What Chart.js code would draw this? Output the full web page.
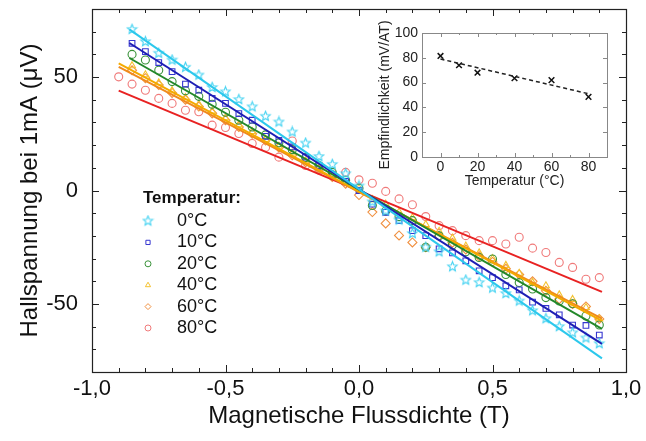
<!DOCTYPE html>
<html>
<head>
<meta charset="utf-8">
<script src="https://cdn.jsdelivr.net/npm/chart.js@4.4.0/dist/chart.umd.min.js"></script>
<style>
  html, body { margin: 0; padding: 0; background: #fff; }
  #wrap { position: relative; width: 646px; height: 441px; }
  #hall { position: absolute; left: 0; top: 0; }
  #inset { position: absolute; left: 370px; top: 20px; }
</style>
</head>
<body>
<div id="wrap">
  <canvas id="hall" width="646" height="441"></canvas>
  <canvas id="inset" width="250" height="175"></canvas>
</div>
<script>
// magnetic flux density (T), shared by all temperature series
const fluxDensity = [-0.90, -0.85, -0.80, -0.75, -0.70, -0.65, -0.60, -0.55, -0.50, -0.45, -0.40, -0.35, -0.30,
  -0.25, -0.20, -0.15, -0.10, -0.05, 0.00, 0.05, 0.10, 0.15, 0.20, 0.25, 0.30, 0.35, 0.40, 0.45, 0.50, 0.55,
  0.60, 0.65, 0.70, 0.75, 0.80, 0.85, 0.90];

// hall voltage at 1 mA (µV)
const hall0 = [null, 71, 65.6, 60.5, 57.5, 54.3, 50.9, 45.4, 43.5, 40.1, 36.9, 32.7, 30.2, 25.8, 20.9, 15, 11.5, 7.4,
  2, -5, -9, -13, -19, -25, -27, -33.6, -39.5, -40.6, -43, -45.4, -48.7, -53, -56.5, -60, -62.7, -65, -67.5];
const hall10 = [null, 64.9, 61.2, 56.4, 52.4, 46.9, 44.2, 40.6, 38.4, 33.9, 31, 23.9, 22.1, 19.2, 14.7, 11, 7, 4,
  0, -6, -9.6, -13.3, -17.7, -19.9, -25.7, -27.5, -31, -35.4, -38.4, -42, -43.8, -49.2, -52, -54.8, -59.3, -59.5, -63.7];
const hall20 = [null, 60, 57.5, 53, 48, 44, 41.5, 38, 34.5, 31, 28, 24.5, 21, 18, 14.5, 11, 8, 4.5,
  1, -6.6, -9, -11.5, -13.3, -25, -20, -24, -27, -29.5, -30.2, -37, -40.6, -43.4, -47.2, -48.7, -49.9, -55.3, -59.3];
const hall40 = [null, 55, 51, 47.5, 44, 41, 38, 35, 32, 29, 26, 22.5, 19.5, 16.5, 13, 10, 6.5, 3.5,
  1, -4, -6, -9.5, -12, -15, -18, -21, -24.5, -27.5, -30, -33, -36.5, -40.6, -42, -46, -48, -51.6, -56.6];
const hall60 = [null, 53, 49.5, 46.5, 43, 40, 37, 34, 31, 28, 25, 22, 19, 15.5, 12.5, 9.5, 6, 3,
  -2, -9.5, -14.5, -19.8, -22.9, -25, -20, -23, -26, -29, -31.5, -34.5, -37, -40, -44.2, -47.9, -50, -51.1, -56.6];
const hall80 = [50.1, 46.9, 44.2, 40.6, 38.4, 35.4, 34.7, 28.8, 27.8, 25.1, 20.7, 19, 14.7, 21.8, 11, 9, 7, 8,
  4.7, 3.2, -0.4, -3.7, -6.3, -11.5, -15.5, -17.7, -19.9, -22.1, -22.1, -23.6, -20.6, -25.4, -27.3, -31.7, -33.9, -39.1, -38.4];

// linear fits, read as end points
const fit0 = { x: [-0.86, 0.91], y: [71, -74] };
const fit10 = { x: [-0.86, 0.91], y: [65, -67.6] };
const fit20 = { x: [-0.86, 0.91], y: [58.4, -61] };
const fit40 = { x: [-0.90, 0.91], y: [56, -57.5] };
const fit60 = { x: [-0.90, 0.91], y: [54.5, -56.5] };
const fit80 = { x: [-0.90, 0.91], y: [44, -44.7] };

const tempLabels = ['0°C', '10°C', '20°C', '40°C', '60°C', '80°C'];

const xTicks = [-1, -0.5, 0, 0.5, 1];
const xMinor = [-0.9, -0.8, -0.7, -0.6, -0.4, -0.3, -0.2, -0.1, 0.1, 0.2, 0.3, 0.4, 0.6, 0.7, 0.8, 0.9];
const yTicks = [-50, 0, 50];
const yMinor = [-70, -60, -40, -30, -20, -10, 10, 20, 30, 40, 60, 70];

// inset: sensitivity vs temperature
const temps = [0, 10, 20, 40, 60, 80];
const sensitivity = [81.5, 74, 68, 63.5, 62, 48.5];
const sensFit = { x: [0, 80], y: [79, 51] };
const insetXTicks = [0, 20, 40, 60, 80];
const insetXMinor = [10, 30, 50, 70];
const insetYTicks = [0, 20, 40, 60, 80, 100];

const FONT = '"Liberation Sans", Arial, Helvetica, sans-serif';

function starImage(color, r) {
  const c = document.createElement('canvas');
  const s = Math.ceil(r * 2 + 3);
  c.width = s; c.height = s;
  const g = c.getContext('2d');
  g.strokeStyle = color;
  g.lineWidth = 1.1;
  g.beginPath();
  for (let k = 0; k < 10; k++) {
    const rr = k % 2 ? r * 0.45 : r;
    const a = -Math.PI / 2 + k * Math.PI / 5;
    const px = s / 2 + rr * Math.cos(a), py = s / 2 + rr * Math.sin(a);
    if (k) g.lineTo(px, py); else g.moveTo(px, py);
  }
  g.closePath();
  g.stroke();
  return c;
}

const series = [
  { vals: hall0, fit: fit0, mark: '#45d3f2', line: '#2cc8ec', style: starImage('#45d3f2', 5) },
  { vals: hall10, fit: fit10, mark: '#3535d0', line: '#1e1eb4', style: 'rect' },
  { vals: hall20, fit: fit20, mark: '#3a923a', line: '#23882a', style: 'circle' },
  { vals: hall40, fit: fit40, mark: '#f4c230', line: '#f4aa00', style: 'triangle' },
  { vals: hall60, fit: fit60, mark: '#f09040', line: '#f08a1c', style: 'rectRot' },
  { vals: hall80, fit: fit80, mark: '#f07a7a', line: '#e82222', style: 'circle' }
];

const datasets = [];
series.forEach((s, i) => {
  datasets.push({
    type: 'line',
    data: s.fit.x.map((x, k) => ({ x: x, y: s.fit.y[k] })),
    borderColor: s.line,
    borderWidth: 2,
    pointRadius: 0,
    order: 0
  });
});
series.forEach((s, i) => {
  datasets.push({
    data: fluxDensity.map((x, k) => ({ x: x, y: s.vals[k] })).filter(p => p.y !== null),
    pointStyle: s.style,
    pointRadius: s.style === 'rectRot' ? 4.5 : 4,
    borderColor: s.mark,
    backgroundColor: 'rgba(0,0,0,0)',
    borderWidth: 1.1,
    order: 1
  });
});

const frameTicks = {
  id: 'frameTicks',
  afterDatasetsDraw(chart, args, o) {
    const { ctx, chartArea: a, scales: { x, y } } = chart;
    ctx.save();
    ctx.strokeStyle = o.color;
    ctx.lineWidth = 1;
    ctx.beginPath();
    const xs = o.xMajor.map(v => [v, o.major]).concat(o.xMinor.map(v => [v, o.minor]));
    xs.forEach(([v, len]) => {
      const px = Math.round(x.getPixelForValue(v)) + 0.5;
      ctx.moveTo(px, a.bottom); ctx.lineTo(px, a.bottom - len);
      if (o.mirror) { ctx.moveTo(px, a.top); ctx.lineTo(px, a.top + len); }
    });
    const ys = o.yMajor.map(v => [v, o.major]).concat(o.yMinor.map(v => [v, o.minor]));
    ys.forEach(([v, len]) => {
      const py = Math.round(y.getPixelForValue(v)) + 0.5;
      ctx.moveTo(a.left, py); ctx.lineTo(a.left + len, py);
      if (o.mirror) { ctx.moveTo(a.right, py); ctx.lineTo(a.right - len, py); }
    });
    ctx.stroke();
    ctx.lineWidth = o.width;
    ctx.strokeRect(Math.round(a.left) + 0.5, Math.round(a.top) + 0.5,
      Math.round(a.right - a.left), Math.round(a.bottom - a.top));
    ctx.restore();
  }
};

const tempLegend = {
  id: 'tempLegend',
  afterDraw(chart, args, o) {
    const ctx = chart.ctx;
    ctx.save();
    ctx.textBaseline = 'middle';
    ctx.fillStyle = '#111';
    ctx.font = 'bold 17px ' + FONT;
    ctx.fillText('Temperatur:', o.x, o.y);
    ctx.font = '18px ' + FONT;
    tempLabels.forEach((lab, i) => {
      const yy = o.y + o.first + i * o.step;
      const s = series[i];
      ctx.strokeStyle = s.mark;
      ctx.fillStyle = 'rgba(0,0,0,0)';
      ctx.lineWidth = 1;
      Chart.helpers.drawPoint(ctx, { pointStyle: s.style, radius: 3, borderWidth: 1, rotation: 0 }, o.x + 5, yy);
      ctx.fillStyle = '#111';
      ctx.fillText(lab, o.x + 34, yy);
    });
    ctx.restore();
  }
};

const commaFmt = v => v.toFixed(1).replace('.', ',');

// keep the plot frame where it is: drop the label overflow padding
const noEdgePad = s => { s.paddingTop = 0; s.paddingBottom = 0; s.paddingLeft = 0; s.paddingRight = 0; };

new Chart(document.getElementById('hall'), {
  type: 'scatter',
  data: { datasets: datasets },
  options: {
    responsive: false,
    animation: false,
    layout: { padding: { top: 9, right: 20, left: 0, bottom: 0 } },
    plugins: {
      legend: { display: false },
      tooltip: { enabled: false },
      frameTicks: { color: '#222', width: 1.2, major: 7, minor: 4, mirror: true,
        xMajor: xTicks, xMinor: xMinor, yMajor: yTicks, yMinor: yMinor },
      tempLegend: { x: 143, y: 198, first: 23, step: 21.4 }
    },
    scales: {
      x: {
        type: 'linear', min: -1, max: 1,
        afterBuildTicks: s => { s.ticks = xTicks.map(v => ({ value: v })); },
        afterFit: s => { s.height = 69; noEdgePad(s); },
        grid: { display: false, drawTicks: false },
        border: { display: false },
        ticks: { color: '#111', padding: 4, font: { family: FONT, size: 22 }, callback: v => commaFmt(v) },
        title: { display: true, text: 'Magnetische Flussdichte (T)', color: '#111',
          font: { family: FONT, size: 24 }, padding: { top: 0, bottom: 10 } }
      },
      y: {
        type: 'linear', min: -80, max: 80,
        afterBuildTicks: s => { s.ticks = yTicks.map(v => ({ value: v })); },
        afterFit: s => { s.width = 92; noEdgePad(s); },
        grid: { display: false, drawTicks: false },
        border: { display: false },
        ticks: { color: '#111', padding: 14, font: { family: FONT, size: 22 } },
        title: { display: true, text: 'Hallspannung bei 1mA (μV)', color: '#111',
          font: { family: FONT, size: 24 }, padding: { top: 16, bottom: 0 } }
      }
    }
  },
  plugins: [frameTicks, tempLegend]
});

new Chart(document.getElementById('inset'), {
  type: 'scatter',
  data: {
    datasets: [
      {
        type: 'line',
        data: sensFit.x.map((x, k) => ({ x: x, y: sensFit.y[k] })),
        borderColor: '#222', borderWidth: 1.5, borderDash: [4, 3], pointRadius: 0
      },
      {
        data: temps.map((t, k) => ({ x: t, y: sensitivity[k] })),
        pointStyle: 'crossRot', pointRadius: 4, borderColor: '#111', borderWidth: 1.5
      }
    ]
  },
  options: {
    responsive: false,
    animation: false,
    layout: { padding: { top: 13, right: 13, left: 0, bottom: 0 } },
    plugins: {
      legend: { display: false },
      tooltip: { enabled: false },
      frameTicks: { color: '#888', width: 1, major: 4, minor: 2, mirror: true,
        xMajor: insetXTicks, xMinor: insetXMinor, yMajor: insetYTicks, yMinor: [] }
    },
    scales: {
      x: {
        type: 'linear', min: -10, max: 90,
        afterBuildTicks: s => { s.ticks = insetXTicks.map(v => ({ value: v })); },
        afterFit: s => { s.height = 38; noEdgePad(s); },
        grid: { display: false, drawTicks: false },
        border: { display: false },
        ticks: { color: '#222', padding: 2, font: { family: FONT, size: 14 } },
        title: { display: true, text: 'Temperatur (°C)', color: '#222',
          font: { family: FONT, size: 14 }, padding: { top: 0, bottom: 5 } }
      },
      y: {
        type: 'linear', min: 0, max: 100,
        afterBuildTicks: s => { s.ticks = insetYTicks.map(v => ({ value: v })); },
        afterFit: s => { s.width = 52; noEdgePad(s); },
        grid: { display: false, drawTicks: false },
        border: { display: false },
        ticks: { color: '#222', padding: 4, font: { family: FONT, size: 14 } },
        title: { display: true, text: 'Empfindlichkeit (mV/AT)', color: '#222',
          font: { family: FONT, size: 14 }, padding: { top: 7, bottom: 0 } }
      }
    }
  },
  plugins: [frameTicks]
});
</script>
</body>
</html>
